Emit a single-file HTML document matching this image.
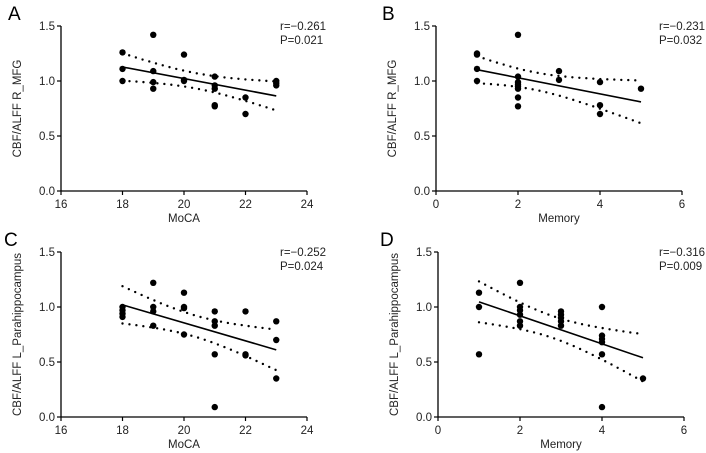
<!DOCTYPE html>
<html><head><meta charset="utf-8"><style>
body{margin:0;background:#fff;}
svg{display:block;font-family:"Liberation Sans",sans-serif;}
</style></head><body>
<svg id="c" width="706" height="453"></svg>
<script>
const xA=[18,18,18,19,19,19,19,20,20,20,21,21,21,21,21,22,22,23,23,23];
const yA=[1.26,1.11,1.0,1.42,1.09,0.99,0.93,1.24,1.01,1.0,1.04,0.96,0.93,0.78,0.77,0.85,0.70,1.0,0.98,0.96];
const xB=[1,1,1,1,2,2,2,2,2,2,2,2,3,3,4,4,4,5];
const yB=[1.25,1.24,1.11,1.0,1.42,1.04,0.99,0.97,0.95,0.93,0.85,0.77,1.09,1.01,0.99,0.78,0.70,0.93];
const xC=[18,18,18,18,19,19,19,19,20,20,20,20,21,21,21,21,21,22,22,22,23,23,23];
const yC=[1.0,0.97,0.94,0.91,1.22,1.0,0.96,0.83,1.13,1.0,0.99,0.75,0.96,0.87,0.83,0.57,0.09,0.96,0.57,0.56,0.87,0.70,0.35];
const xD=[1,1,1,2,2,2,2,2,2,3,3,3,3,3,4,4,4,4,4,4,5];
const yD=[1.13,1.0,0.57,1.22,1.0,0.97,0.93,0.87,0.83,0.96,0.93,0.90,0.87,0.83,1.0,0.74,0.71,0.68,0.57,0.09,0.35];
const xTicksMoCA=[16,18,20,22,24];
const xTicksMem=[0,2,4,6];
const yTicks=[0.0,0.5,1.0,1.5];
const statsR=["r=\u22120.261","r=\u22120.231","r=\u22120.252","r=\u22120.316"];
const statsP=["P=0.021","P=0.032","P=0.024","P=0.009"];
const NS="http://www.w3.org/2000/svg";
const svg=document.getElementById('c');
function mk(t,a,p){const e=document.createElementNS(NS,t);for(const k in a)e.setAttribute(k,a[k]);(p||svg).appendChild(e);return e;}
const panels=[
 {L:"A",xs:xA,ys:yA,ticks:xTicksMoCA,x0:61,x1:307,y0:191,y1:26,xt:"MoCA",yt:"CBF/ALFF R_MFG",lx:8,sx:280},
 {L:"B",xs:xB,ys:yB,ticks:xTicksMem,x0:436,x1:682,y0:191,y1:26,xt:"Memory",yt:"CBF/ALFF R_MFG",lx:382,sx:659},
 {L:"C",xs:xC,ys:yC,ticks:xTicksMoCA,x0:61,x1:307,y0:417,y1:252,xt:"MoCA",yt:"CBF/ALFF L_Parahippocampus",lx:4,sx:280},
 {L:"D",xs:xD,ys:yD,ticks:xTicksMem,x0:438,x1:684,y0:417,y1:252,xt:"Memory",yt:"CBF/ALFF L_Parahippocampus",lx:380,sx:659}
];
panels.forEach((p,i)=>{
 const g=mk('g',{});
 
 
 const tmin=p.ticks[0],tmax=p.ticks[p.ticks.length-1];
 const X=v=>p.x0+(v-tmin)/(tmax-tmin)*(p.x1-p.x0);
 const Y=v=>p.y0+(v-0)/(1.5)*(p.y1-p.y0);
 const lab=mk('text',{x:p.lx,y:p.y1-6,'font-size':19,fill:'#000'},g);lab.textContent=p.L;
 
 const ya=mk('line',{x1:p.x0,y1:p.y0,x2:p.x0,y2:p.y1,stroke:'#000','stroke-width':1.3},g);
 
 const xa=mk('line',{x1:p.x0,y1:p.y0,x2:p.x1,y2:p.y0,stroke:'#000','stroke-width':1.3},g);
 
 yTicks.forEach(t=>{
  mk('line',{x1:p.x0-4,x2:p.x0,y1:Y(t),y2:Y(t),stroke:'#000','stroke-width':1.2},g);
  const tx=mk('text',{x:p.x0-6,y:Y(t)+4,'font-size':11.5,'text-anchor':'end',fill:'#222'},g);tx.textContent=t.toFixed(1);
  
 });
 p.ticks.forEach(t=>{
  mk('line',{x1:X(t),x2:X(t),y1:p.y0,y2:p.y0+4,stroke:'#000','stroke-width':1.2},g);
  const tx=mk('text',{x:X(t),y:p.y0+17,'font-size':11.5,'text-anchor':'middle',fill:'#222'},g);tx.textContent=t;
  
 });
 const xt=mk('text',{x:(p.x0+p.x1)/2,y:p.y0+31,'font-size':11.5,'text-anchor':'middle',fill:'#222'},g);xt.textContent=p.xt;
 
 const cy=(p.y0+p.y1)/2,cx=p.x0-40;
 const yt=mk('text',{x:cx,y:cy,'font-size':11.5,'text-anchor':'middle',fill:'#222',transform:`rotate(-90 ${cx} ${cy})`},g);yt.textContent=p.yt;
 
 const r=mk('text',{x:p.sx,y:p.y1+4,'font-size':11.5,fill:'#222'},g);r.textContent=statsR[i];
 
 const pv=mk('text',{x:p.sx,y:p.y1+18,'font-size':11.5,fill:'#222'},g);pv.textContent=statsP[i];
 
 // regression
 const n=p.xs.length,mx=p.xs.reduce((a,b)=>a+b)/n,my=p.ys.reduce((a,b)=>a+b)/n;
 let sxx=0,sxy=0;p.xs.forEach((x,k)=>{sxx+=(x-mx)**2;sxy+=(x-mx)*(p.ys[k]-my);});
 const b=sxy/sxx,a=my-b*mx;
 let sse=0;p.xs.forEach((x,k)=>{sse+=(p.ys[k]-a-b*x)**2;});
 const s=Math.sqrt(sse/(n-2)),tq=2.08;
 const xmin=Math.min(...p.xs),xmax=Math.max(...p.xs);
 const fl=mk('line',{x1:X(xmin),y1:Y(a+b*xmin),x2:X(xmax),y2:Y(a+b*xmax),stroke:'#000','stroke-width':1.6},g);
 
 [1,-1].forEach(sg=>{
  let d='';for(let k=0;k<=40;k++){const x=xmin+(xmax-xmin)*k/40;const yv=a+b*x+sg*tq*s*Math.sqrt(1/n+(x-mx)**2/sxx);d+=(k?'L':'M')+X(x).toFixed(1)+','+Y(yv).toFixed(1);}
  const bd=mk('path',{d:d,fill:'none',stroke:'#000','stroke-width':2.4,'stroke-linecap':'round','stroke-dasharray':'0 7'},g);
  
 });
 p.xs.forEach((x,k)=>{
  const c=mk('circle',{cx:X(x),cy:Y(p.ys[k]),r:3.2,fill:'#000'},g);
  
 });
});
</script>
</body></html>
